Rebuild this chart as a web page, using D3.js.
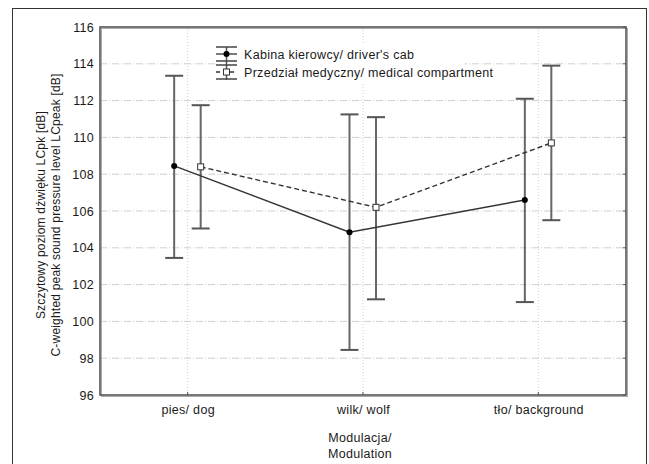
<!DOCTYPE html>
<html>
<head>
<meta charset="utf-8">
<script src="https://cdn.jsdelivr.net/npm/d3@7"></script>
<style>
	body { margin: 0; background: #fff; }
	svg text { font-family: "Liberation Sans", Arial, sans-serif; font-size: 12.5px; letter-spacing: 0.3px; fill: #1a1a1a; }
</style>
</head>
<body>
<svg id="chart" width="649" height="464"></svg>
<script>

	/***********************************************************************/
	//Data
	/***********************************************************************/
	const categories = ['pies/ dog', 'wilk/ wolf', 'tło/ background']

	const cabMean = [108.45, 104.85, 106.6]
	const cabLow = [103.45, 98.45, 101.05]
	const cabHigh = [113.35, 111.25, 112.1]

	const medMean = [108.4, 106.2, 109.7]
	const medLow = [105.05, 101.2, 105.5]
	const medHigh = [111.75, 111.1, 113.9]

	const yTickValues = [96, 98, 100, 102, 104, 106, 108, 110, 112, 114, 116]

	const seriesNames = ["Kabina kierowcy/ driver's cab", 'Przedział medyczny/ medical compartment']
	const yTitle = ['Szczytowy poziom dźwięku LCpk [dB]', 'C-weighted peak sound pressure level LCpeak [dB]']
	const xTitle = ['Modulacja/', 'Modulation']

	const series = [
		{ name : seriesNames[0], mean : cabMean, low : cabLow, high : cabHigh, offset : -13.5, dash : null, marker : 'circle' },
		{ name : seriesNames[1], mean : medMean, low : medLow, high : medHigh, offset : 13, dash : '5,3', marker : 'square' }
	]

	/***********************************************************************/
	//Plot Area
	/***********************************************************************/
	const margin = { left : 100, top : 27 }
	const plotAreaWidth = 526
	const plotAreaHeight = 368

	const svg = d3.select('#chart')

	// outer frame of the figure
	svg.append('rect')
		.attr('x', 12.5)
		.attr('y', 8.5)
		.attr('width', 634)
		.attr('height', 470)
		.attr('fill', 'none')
		.attr('stroke', '#333')
		.attr('stroke-width', 1)

	const g = svg.append('g')
		.attr('transform', 'translate(' + margin.left + ',' + margin.top + ')')

	/***********************************************************************/
	//Scale
	/***********************************************************************/
	const xScale = d3.scalePoint()
		.domain(categories)
		.range([0, plotAreaWidth])
		.padding(0.5)

	const yScale = d3.scaleLinear()
		.domain([96, 116])
		.range([plotAreaHeight, 0])

	/***********************************************************************/
	//Grid
	/***********************************************************************/
	g.append('g')
		.selectAll('line')
		.data(yTickValues.slice(1, -1))
		.join('line')
		.attr('x1', 0)
		.attr('x2', plotAreaWidth)
		.attr('y1', d => yScale(d))
		.attr('y2', d => yScale(d))
		.attr('stroke', '#cfcfcf')
		.attr('stroke-width', 1)
		.attr('stroke-dasharray', '7,2,1,2')

	g.append('g')
		.selectAll('line')
		.data(categories)
		.join('line')
		.attr('x1', d => xScale(d))
		.attr('x2', d => xScale(d))
		.attr('y1', 0)
		.attr('y2', plotAreaHeight)
		.attr('stroke', '#cfcfcf')
		.attr('stroke-width', 1)
		.attr('stroke-dasharray', '1,2')

	/***********************************************************************/
	//Axes
	/***********************************************************************/
	const yAxis = d3.axisLeft(yScale)
		.tickValues(yTickValues)
		.tickSize(0)
		.tickPadding(6)

	const yAxisG = g.append('g').call(yAxis)
	yAxisG.select('.domain').remove()
	yAxisG.selectAll('text').style('font-size', '12.5px').attr('fill', '#1a1a1a')

	const xAxis = d3.axisBottom(xScale)
		.tickSize(0)
		.tickPadding(10)

	const xAxisG = g.append('g')
		.attr('transform', 'translate(0,' + plotAreaHeight + ')')
		.call(xAxis)
	xAxisG.select('.domain').remove()
	xAxisG.selectAll('text').style('font-size', '12.5px').attr('fill', '#1a1a1a')

	// small inner ticks
	g.append('g')
		.selectAll('line')
		.data(yTickValues)
		.join('line')
		.attr('x1', plotAreaWidth - 3)
		.attr('x2', plotAreaWidth)
		.attr('y1', d => yScale(d))
		.attr('y2', d => yScale(d))
		.attr('stroke', '#555')
	g.append('g')
		.selectAll('line')
		.data(categories)
		.join('line')
		.attr('x1', d => xScale(d))
		.attr('x2', d => xScale(d))
		.attr('y1', plotAreaHeight - 3)
		.attr('y2', plotAreaHeight)
		.attr('stroke', '#555')

	// plot frame with its light shadow
	g.append('rect')
		.attr('x', 1.5)
		.attr('y', 1.5)
		.attr('width', plotAreaWidth)
		.attr('height', plotAreaHeight)
		.attr('fill', 'none')
		.attr('stroke', '#aaa')
		.attr('stroke-width', 1)
	g.append('rect')
		.attr('x', 0)
		.attr('y', 0)
		.attr('width', plotAreaWidth)
		.attr('height', plotAreaHeight)
		.attr('fill', 'none')
		.attr('stroke', '#555')
		.attr('stroke-width', 1.6)

	/***********************************************************************/
	//Titles
	/***********************************************************************/
	yTitle.forEach((t, i) => {
		svg.append('text')
			.attr('transform', 'translate(' + (45 + i * 15) + ',215) rotate(-90)')
			.attr('text-anchor', 'middle')
			.style('font-size', '12px')
			.style('letter-spacing', '0.2px')
			.text(t)
	})

	xTitle.forEach((t, i) => {
		svg.append('text')
			.attr('x', margin.left + plotAreaWidth / 2 - 3)
			.attr('y', 442 + i * 16)
			.attr('text-anchor', 'middle')
			.text(t)
	})

	/***********************************************************************/
	//Plotting
	/***********************************************************************/
	const capHalf = 9

	series.forEach(s => {
		const px = i => xScale(categories[i]) + s.offset
		const idx = d3.range(categories.length)

		const bars = g.append('g')
		bars.selectAll('.whisker')
			.data(idx)
			.join('line')
			.attr('x1', px).attr('x2', px)
			.attr('y1', i => yScale(s.low[i]))
			.attr('y2', i => yScale(s.high[i]))
			.attr('stroke', '#666')
			.attr('stroke-width', 2)
		;['low', 'high'].forEach(k => {
			bars.append('g')
				.selectAll('line')
				.data(idx)
				.join('line')
				.attr('x1', i => px(i) - capHalf)
				.attr('x2', i => px(i) + capHalf)
				.attr('y1', i => yScale(s[k][i]))
				.attr('y2', i => yScale(s[k][i]))
				.attr('stroke', '#555')
				.attr('stroke-width', 2)
		})
	})

	series.forEach(s => {
		const px = i => xScale(categories[i]) + s.offset
		const idx = d3.range(categories.length)

		const line = d3.line()
			.x(i => px(i))
			.y(i => yScale(s.mean[i]))

		g.append('path')
			.datum(idx)
			.attr('fill', 'none')
			.attr('stroke', '#333')
			.attr('stroke-width', 1.4)
			.attr('stroke-dasharray', s.dash)
			.attr('d', line)

		if (s.marker === 'circle') {
			g.append('g').selectAll('circle')
				.data(idx)
				.join('circle')
				.attr('cx', px)
				.attr('cy', i => yScale(s.mean[i]))
				.attr('r', 3)
				.attr('fill', '#000')
		} else {
			g.append('g').selectAll('rect')
				.data(idx)
				.join('rect')
				.attr('x', i => px(i) - 3)
				.attr('y', i => yScale(s.mean[i]) - 3)
				.attr('width', 6)
				.attr('height', 6)
				.attr('fill', '#fff')
				.attr('stroke', '#333')
				.attr('stroke-width', 1)
		}
	})

	/***********************************************************************/
	//Legend
	/***********************************************************************/
	const legend = svg.append('g').attr('transform', 'translate(215,0)')
	const rowY = [54, 72]

	legend.append('rect')
		.attr('x', 0).attr('y', 44)
		.attr('width', 250).attr('height', 38)
		.attr('fill', '#fff')

	legend.append('line')
		.attr('x1', 11.5).attr('x2', 11.5)
		.attr('y1', 47).attr('y2', 80)
		.attr('stroke', '#555').attr('stroke-width', 1.5)

	series.forEach((s, i) => {
		const y = rowY[i]
		legend.append('line')
			.attr('x1', 1).attr('x2', 22)
			.attr('y1', y - 7).attr('y2', y - 7)
			.attr('stroke', '#444').attr('stroke-width', 1.5)
		legend.append('line')
			.attr('x1', 1).attr('x2', 22)
			.attr('y1', y + 7).attr('y2', y + 7)
			.attr('stroke', '#444').attr('stroke-width', 1.5)
		legend.append('line')
			.attr('x1', 1).attr('x2', 22)
			.attr('y1', y).attr('y2', y)
			.attr('stroke', '#333').attr('stroke-width', 1.3)
			.attr('stroke-dasharray', s.dash ? '4,3' : null)
		if (s.marker === 'circle') {
			legend.append('circle')
				.attr('cx', 11.5).attr('cy', y).attr('r', 3).attr('fill', '#000')
		} else {
			legend.append('rect')
				.attr('x', 8.5).attr('y', y - 3)
				.attr('width', 6).attr('height', 6)
				.attr('fill', '#fff').attr('stroke', '#333')
		}
		legend.append('text')
			.attr('x', 29)
			.attr('y', y + 4.5)
			.text(s.name)
	})
</script>
</body>
</html>
